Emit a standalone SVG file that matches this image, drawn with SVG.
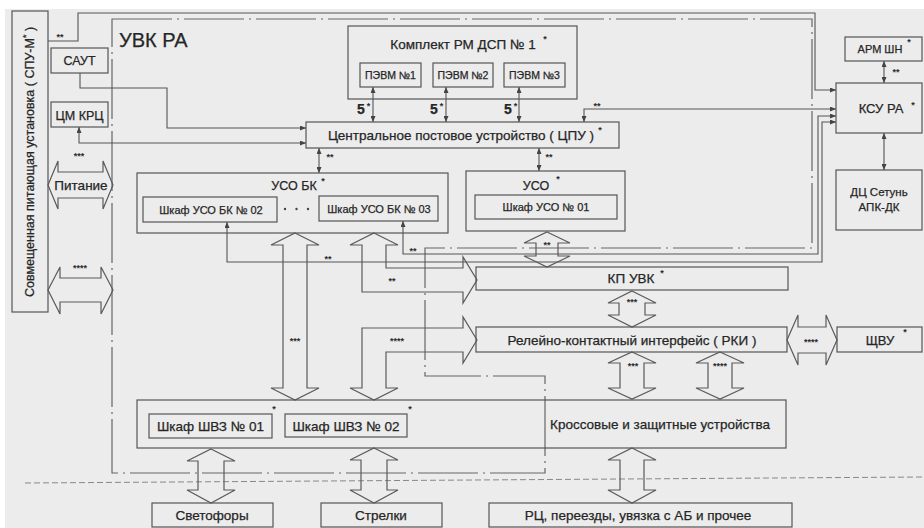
<svg xmlns="http://www.w3.org/2000/svg" width="924" height="528" viewBox="0 0 924 528">
<style>
.b{fill:none;stroke:#555;stroke-width:1.2}
.c{fill:none;stroke:#555;stroke-width:1.1}
.h{fill:none;stroke:#5a5a5a;stroke-width:1.2;stroke-linejoin:miter}
.f{fill:none;stroke:#666;stroke-width:1.2;stroke-dasharray:60 5 2 5}
.t{font-family:"Liberation Sans",Arial,sans-serif;fill:#262626;stroke:#262626;stroke-width:0.25;font-size:13.5px;text-anchor:middle}
.s{font-family:"Liberation Sans",Arial,sans-serif;fill:#2b2b2b;font-size:9px;font-weight:bold;text-anchor:middle}
</style>
<defs>
<marker id="a" viewBox="0 0 6 5" refX="6" refY="2.5" markerWidth="6" markerHeight="5" markerUnits="userSpaceOnUse" orient="auto-start-reverse"><path d="M0,0 L6,2.5 L0,5 z" fill="#444"/></marker>
</defs>
<rect width="924" height="528" fill="#ffffff"/>
<rect x="5" y="9" width="919" height="519" fill="#ececec"/>

<g id="frame">
<path class="f" d="M112,19 H812 V248 H425 V376 H545 V473 H112 Z"/>
<path d="M25,483 L924,477" fill="none" stroke="#888" stroke-width="1" stroke-dasharray="6 3"/>
<text class="t" x="119" y="47" style="text-anchor:start;font-size:20px">УВК РА</text>
</g>

<g id="connectors">
<path class="c" d="M48,41 H78 V13 H815 V90 H836" marker-end="url(#a)"/>
<path class="c" d="M80,73 V88 H167 V128 H306" marker-end="url(#a)"/>
<path class="c" d="M79,127 V143 H306" marker-start="url(#a)" marker-end="url(#a)"/>
<path class="c" d="M373,87 V122" marker-start="url(#a)" marker-end="url(#a)"/>
<path class="c" d="M446,87 V122" marker-start="url(#a)" marker-end="url(#a)"/>
<path class="c" d="M519,87 V122" marker-start="url(#a)" marker-end="url(#a)"/>
<path class="c" d="M584,122 V109 H836" marker-start="url(#a)" marker-end="url(#a)"/>
<path class="c" d="M319,148 V173" marker-start="url(#a)" marker-end="url(#a)"/>
<path class="c" d="M539,148 V171" marker-start="url(#a)" marker-end="url(#a)"/>
<path class="c" d="M884,61 V83" marker-start="url(#a)" marker-end="url(#a)"/>
<path class="c" d="M884,133 V170" marker-start="url(#a)" marker-end="url(#a)"/>
<path class="c" d="M227,222 V262 H822 V122 H836" marker-start="url(#a)" marker-end="url(#a)"/>
<path class="c" d="M403,221 V254 H818 V116 H836" marker-start="url(#a)" marker-end="url(#a)"/>
<polygon class="h" points="48,185 58,161 58,172 103,172 103,161 113,185 103,209 103,198 58,198 58,209"/>
<polygon class="h" points="48,290 60,267 60,278 101,278 101,267 113,290 101,314 101,302 60,302 60,314"/>
<polygon class="h" points="295,233 319,245 307,245 307,388 319,388 295,400 271,388 283,388 283,245 271,245"/>
<polygon class="h" points="374,233 398,245 386,245 386,268 463,268 463,257 477,280 463,303 463,292 362,292 362,245 350,245"/>
<polygon class="h" points="477,340 463,363 463,352 386,352 386,388 398,388 374,400 350,388 362,388 362,328 463,328 463,317"/>
<polygon class="h" points="547,232 570,243 558,243 558,256 570,256 547,267 524,256 536,256 536,243 524,243"/>
<polygon class="h" points="632,291 656,303 645,303 645,315 656,315 632,327 608,315 619,315 619,303 608,303"/>
<polygon class="h" points="787,340 798,315 798,327 826,327 826,315 837,340 826,365 826,353 798,353 798,365"/>
<polygon class="h" points="632,352 656,363 644,363 644,388 656,388 632,399 608,388 620,388 620,363 608,363"/>
<polygon class="h" points="720,352 744,363 732,363 732,388 744,388 720,399 696,388 708,388 708,363 696,363"/>
<polygon class="h" points="211,449 235,461 224,461 224,490 235,490 211,503 187,490 198,490 198,461 187,461"/>
<polygon class="h" points="374,448 398,460 387,460 387,490 398,490 374,503 350,490 361,490 361,460 350,460"/>
<polygon class="h" points="632,448 656,460 644,460 644,490 656,490 632,503 608,490 620,490 620,460 608,460"/>
<text class="s" x="60" y="40">**</text>
<text class="s" x="79" y="159">***</text>
<text class="s" x="80" y="271">****</text>
<text class="t" x="361" y="114" style="font-size:14px;font-weight:bold">5</text>
<text class="s" x="368.5" y="109">*</text>
<text class="t" x="434" y="114" style="font-size:14px;font-weight:bold">5</text>
<text class="s" x="441.5" y="109">*</text>
<text class="t" x="508" y="114" style="font-size:14px;font-weight:bold">5</text>
<text class="s" x="515.5" y="109">*</text>
<text class="s" x="597" y="109">**</text>
<text class="s" x="330" y="160">**</text>
<text class="s" x="549" y="160">**</text>
<text class="s" x="896" y="75">**</text>
<text class="s" x="328" y="262">**</text>
<text class="s" x="413" y="254">**</text>
<text class="s" x="392" y="284">**</text>
<text class="s" x="547" y="248">**</text>
<text class="s" x="295" y="344">***</text>
<text class="s" x="397" y="344">****</text>
<text class="s" x="632" y="305">***</text>
<text class="s" x="811" y="345">****</text>
<text class="s" x="633" y="369">***</text>
<text class="s" x="720" y="369">****</text>
</g>

<g id="spu">
<rect class="b" x="12" y="11" width="36" height="301"/>
<text class="t" transform="translate(34,162) rotate(-90)" style="font-size:12.5px">Совмещенная питающая установка ( СПУ-М<tspan dy="-5" style="font-size:9px">*</tspan><tspan dy="5"> )</tspan></text>
</g>
<g id="saut"><rect class="b" x="51" y="48" width="57" height="25"/><text class="t" x="79.5" y="65" style="font-size:12.5px">САУТ</text></g>
<g id="cmkrc"><rect class="b" x="51" y="102" width="57" height="25"/><text class="t" x="79.5" y="119.5" style="font-size:12.5px">ЦМ КРЦ</text></g>
<g id="pitanie"><text class="t" x="81" y="189.5" style="font-size:13.5px">Питание</text></g>

<g id="rm-dsp">
<rect class="b" x="348" y="26" width="229" height="73"/>
<text class="t" x="463" y="49">Комплект РМ ДСП № 1</text>
<text class="s" x="545" y="42">*</text>
</g>
<g id="pevm1"><rect class="b" x="360" y="63" width="61" height="24"/><text class="t" x="390.5" y="79" style="font-size:10.5px">ПЭВМ №1</text></g>
<g id="pevm2"><rect class="b" x="433" y="63" width="60" height="24"/><text class="t" x="463" y="79" style="font-size:10.5px">ПЭВМ №2</text></g>
<g id="pevm3"><rect class="b" x="504" y="63" width="61" height="24"/><text class="t" x="534.5" y="79" style="font-size:10.5px">ПЭВМ №3</text></g>

<g id="cpu">
<rect class="b" x="306" y="122" width="313" height="26"/>
<text class="t" x="461" y="140">Центральное постовое устройство ( ЦПУ )</text>
<text class="s" x="600" y="133">*</text>
</g>

<g id="uso-bk">
<rect class="b" x="137" y="173" width="311" height="60"/>
<text class="t" x="294" y="190" style="font-size:12.5px">УСО БК</text>
<text class="s" x="323" y="184">*</text>
<circle cx="285" cy="209" r="1.2" fill="#444"/><circle cx="296.5" cy="209" r="1.2" fill="#444"/><circle cx="308" cy="209" r="1.2" fill="#444"/>
</g>
<g id="shkaf-uso-bk-02"><rect class="b" x="143" y="197" width="134" height="25"/><text class="t" x="211" y="213.5" style="font-size:11px">Шкаф УСО БК № 02</text></g>
<g id="shkaf-uso-bk-03"><rect class="b" x="319" y="196" width="119" height="25"/><text class="t" x="379" y="212.5" style="font-size:11px">Шкаф УСО БК № 03</text></g>

<g id="uso">
<rect class="b" x="466" y="171" width="159" height="60"/>
<text class="t" x="536" y="190" style="font-size:12.5px">УСО</text>
<text class="s" x="558" y="182">*</text>
</g>
<g id="shkaf-uso-01"><rect class="b" x="475" y="195" width="142" height="24"/><text class="t" x="546" y="211" style="font-size:11px">Шкаф УСО № 01</text></g>

<g id="arm-shn"><rect class="b" x="845" y="37" width="77" height="24"/><text class="t" x="880" y="53" style="font-size:11px">АРМ ШН</text><text class="s" x="909" y="45">*</text></g>
<g id="ksu-ra"><rect class="b" x="836" y="83" width="86" height="50"/><text class="t" x="881" y="113" style="font-size:13px">КСУ РА</text><text class="s" x="913" y="108">*</text></g>
<g id="dc-setun"><rect class="b" x="836" y="170" width="86" height="60"/><text class="t" x="879" y="196" style="font-size:11.5px">ДЦ Сетунь</text><text class="t" x="879" y="211" style="font-size:11.5px">АПК-ДК</text></g>

<g id="kp-uvk"><rect class="b" x="476" y="267" width="312" height="23"/><text class="t" x="631" y="283">КП УВК</text><text class="s" x="662" y="276">*</text></g>
<g id="rki"><rect class="b" x="476" y="327" width="311" height="25"/><text class="t" x="632" y="344.5">Релейно-контактный интерфейс ( РКИ )</text></g>
<g id="shvu"><rect class="b" x="837" y="327" width="85" height="25"/><text class="t" x="880" y="344.5" style="font-size:13px">ЩВУ</text><text class="s" x="905" y="335">*</text></g>

<g id="krossovye"><rect class="b" x="137" y="400" width="649" height="48"/><text class="t" x="660" y="428.5">Кроссовые и защитные устройства</text></g>
<g id="shvz-01"><rect class="b" x="149" y="414" width="123" height="24"/><text class="t" x="210.5" y="431">Шкаф ШВЗ № 01</text><text class="s" x="274" y="412">*</text></g>
<g id="shvz-02"><rect class="b" x="285" y="414" width="122" height="23"/><text class="t" x="346" y="430.5">Шкаф ШВЗ № 02</text><text class="s" x="410" y="412">*</text></g>

<g id="svetofory"><rect class="b" x="152" y="503" width="121" height="24"/><text class="t" x="212" y="520">Светофоры</text></g>
<g id="strelki"><rect class="b" x="321" y="503" width="121" height="24"/><text class="t" x="381" y="520">Стрелки</text></g>
<g id="rc"><rect class="b" x="489" y="503" width="303" height="24"/><text class="t" x="638" y="520">РЦ, переезды, увязка с АБ и прочее</text></g>
</svg>
